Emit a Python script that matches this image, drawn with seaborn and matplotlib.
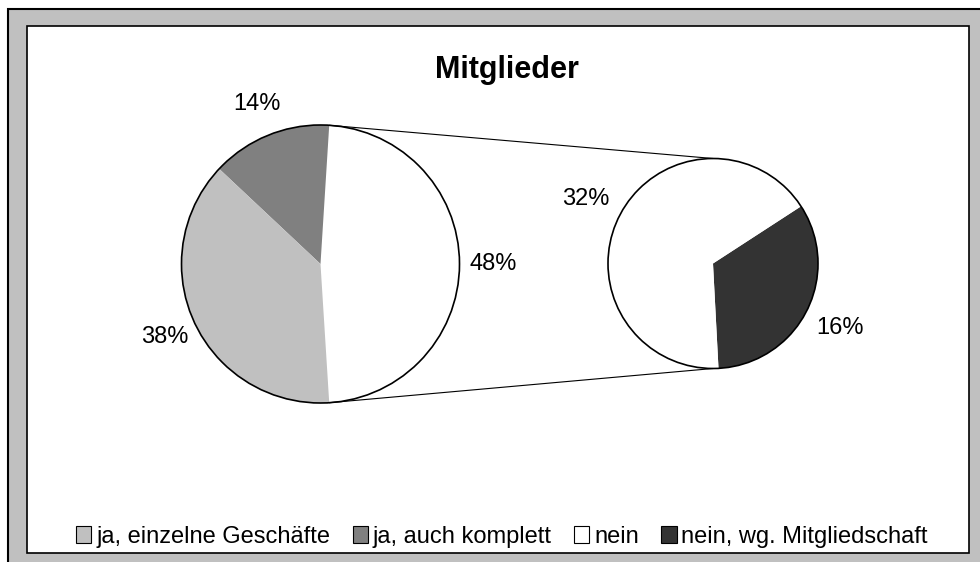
import matplotlib
matplotlib.use("Agg")
import matplotlib.pyplot as plt
from matplotlib.patches import Rectangle, Circle, Patch
import numpy as np
import seaborn as sns

sns.set_style("white")
plt.rcParams["font.family"] = ["Liberation Sans", "DejaVu Sans"]
plt.rcParams["text.color"] = "black"

# data (share of all answers, %)
categories = ["ja, einzelne Geschäfte", "ja, auch komplett", "nein", "nein, wg. Mitgliedschaft"]
shares = [38, 14, 32, 16]
colors = ["#c0c0c0", "#808080", "#ffffff", "#333333"]
title = "Mitglieder"

# canvas in pixels, y measured from the top like the reference
W, H = 980, 562
def yy(y):
    return H - y

fig = plt.figure(figsize=(W / 100, H / 100), dpi=100)
fig.patch.set_facecolor("white")
ax = fig.add_axes([0, 0, 1, 1])

# gray chart area with the white plot panel on it
ax.add_patch(Rectangle((8, -20), W, yy(9) + 20, facecolor="#c0c0c0",
                       edgecolor="black", lw=1.5, clip_on=False, zorder=0))
ax.add_patch(Rectangle((27, yy(553)), 942, 527, facecolor="white",
                       edgecolor="black", lw=1.2, zorder=0.5))

# main pie: the two "nein" groups are merged into one slice facing the small pie
main_vals = [shares[2] + shares[3], shares[1], shares[0]]
main_cols = [colors[2], colors[1], colors[0]]
main_c, main_r = (320.5, yy(264)), 139
start = -main_vals[0] / sum(main_vals) * 360 / 2
w_main, _, _ = ax.pie(main_vals, colors=main_cols, startangle=start,
                      center=main_c, radius=main_r, autopct="%.0f%%",
                      pctdistance=1.24, frame=True,
                      wedgeprops=dict(linewidth=0),
                      textprops=dict(fontsize=17, color="black"))
ax.add_patch(Circle(main_c, main_r, fill=False, edgecolor="black", lw=1.2, zorder=3))

# secondary pie: split of the "nein" slice, labels as share of the total
sub_vals = [shares[3], shares[2]]
sub_cols = [colors[3], colors[2]]
sub_c, sub_r = (713, yy(263.5)), 105
ax.pie(sub_vals, colors=sub_cols, startangle=-87, center=sub_c, radius=sub_r,
       autopct=lambda p: f"{p * sum(sub_vals) / 100:.0f}%",
       pctdistance=1.36, frame=True,
       wedgeprops=dict(linewidth=0),
       textprops=dict(fontsize=17, color="black"))
ax.add_patch(Circle(sub_c, sub_r, fill=False, edgecolor="black", lw=1.2, zorder=3))

# connector lines from the merged slice to the small pie
wedge = w_main[0]
for theta, sign in [(wedge.theta2, 1), (wedge.theta1, -1)]:
    x0 = main_c[0] + main_r * np.cos(np.radians(theta))
    y0 = main_c[1] + main_r * np.sin(np.radians(theta))
    ax.plot([x0, sub_c[0]], [y0, sub_c[1] + sign * sub_r], color="black", lw=0.8, zorder=2)

ax.text(507, yy(70), title, ha="center", va="center", fontsize=22,
        fontweight="bold", color="black")

handles = [Patch(facecolor=c, edgecolor="black", lw=0.8) for c in colors]
leg = ax.legend(handles, categories, loc="center", bbox_to_anchor=(502 / W, yy(537) / H),
                ncol=4, frameon=False, fontsize=17, handlelength=0.65, handleheight=0.7,
                handletextpad=0.2, columnspacing=0.95, borderpad=0)
for t in leg.get_texts():
    t.set_color("black")

ax.set_xlim(0, W)
ax.set_ylim(0, H)
ax.set_aspect("equal")
ax.axis("off")

fig.savefig("out.png", dpi=100)
